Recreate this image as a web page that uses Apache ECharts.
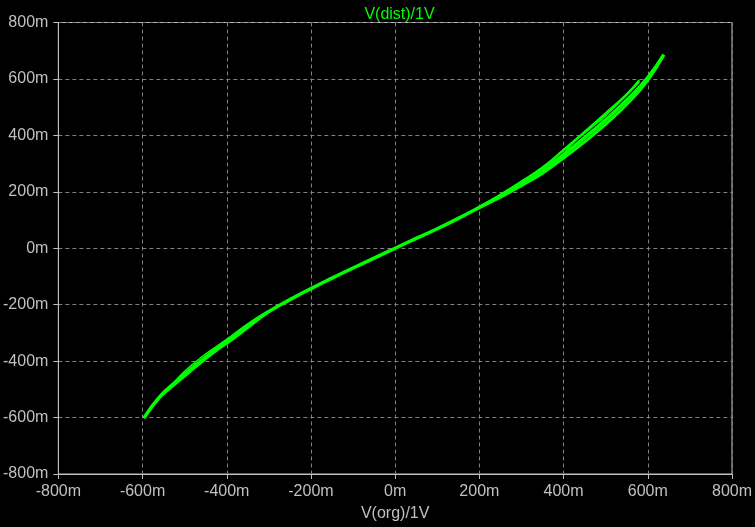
<!DOCTYPE html>
<html>
<head>
<meta charset="utf-8">
<script src="https://cdn.jsdelivr.net/npm/echarts@6/dist/echarts.min.js"></script>
<style>
html,body{margin:0;padding:0;background:#000;}
#chart{width:755px;height:527px;}
</style>
</head>
<body>
<div id="chart"></div>
<script>
// Tick values (V)
const tickValues = [-0.8,-0.6,-0.4,-0.2,0,0.2,0.4,0.6,0.8];

// Main trace: V(org) -> V(dist)
const mainX = [-0.597,-0.56,-0.52,-0.48,-0.44,-0.40,-0.35,-0.30,-0.25,-0.20,-0.15,-0.10,-0.05,0,0.05,0.10,0.15,0.20,0.25,0.30,0.35,0.40,0.45,0.50,0.55,0.60,0.638];
const mainY = [-0.602,-0.528,-0.472,-0.422,-0.374,-0.328,-0.272,-0.224,-0.182,-0.143,-0.106,-0.070,-0.035,0,0.035,0.069,0.106,0.145,0.185,0.228,0.276,0.332,0.392,0.455,0.525,0.605,0.686];

// Lower edge of band (positive side)
const lowX = [0.20,0.25,0.30,0.35,0.40,0.45,0.50,0.55,0.60,0.638];
const lowY = [0.145,0.181,0.222,0.266,0.320,0.377,0.440,0.510,0.595,0.686];

// Upper edge of band (positive side), smaller cycle
const highX = [0.20,0.25,0.30,0.35,0.40,0.45,0.50,0.55,0.58];
const highY = [0.145,0.189,0.236,0.286,0.348,0.412,0.478,0.545,0.595];

// Thin inner trace (positive side)
const thinPX = [0.40,0.42,0.46,0.50,0.54,0.58];
const thinPY = [0.332,0.370,0.420,0.470,0.528,0.588];

// Thin trace on negative side (above main band)
const thinNX = [-0.597,-0.583,-0.56,-0.535,-0.50,-0.46,-0.42,-0.38,-0.35];
const thinNY = [-0.602,-0.572,-0.525,-0.490,-0.436,-0.386,-0.343,-0.303,-0.272];

// Lower edge of band (negative side)
const lowNX = [-0.56,-0.50,-0.46,-0.42,-0.38,-0.34,-0.30];
const lowNY = [-0.528,-0.454,-0.404,-0.358,-0.316,-0.270,-0.224];

function pairs(xs, ys){ return xs.map((x,i)=>[x, ys[i]]); }
function fmt(v){ return Math.round(v*1000) + 'm'; }

const chart = echarts.init(document.getElementById('chart'), null, {renderer:'canvas'});
const gray = '#c0c0c0';
const font = 'Liberation Sans';

function axis(name){
  return {
    type:'value', min:-0.8, max:0.8, interval:0.2,
    name: name, nameLocation:'middle', nameGap:32,
    nameTextStyle:{color:gray, fontSize:16, fontFamily:font},
    axisLine:{show:true, onZero:false, lineStyle:{color:gray, width:1}},
    axisTick:{show:true, inside:false, length:5, lineStyle:{color:gray}},
    axisLabel:{color:gray, fontSize:16, fontFamily:font, margin:10, formatter:fmt, showMinLabel:true, showMaxLabel:true},
    splitLine:{show:true, lineStyle:{color:'#808080', type:[4,3], width:1}}
  };
}

const lineStyle = (w)=>({color:'#00ff00', width:w});

chart.setOption({
  backgroundColor:'#000',
  animation:false,
  title:{text:'V(dist)/1V', left:394.5, textAlign:'center', top:2,
    textStyle:{color:'#00ff00', fontSize:16, fontWeight:'normal', fontFamily:font}},
  grid:{left:56.5, right:22, top:22.5, bottom:51.5, show:true, borderColor:gray, borderWidth:1, backgroundColor:'transparent'},
  xAxis: axis('V(org)/1V'),
  yAxis: Object.assign(axis(''), {name:''}),
  series:[
    {type:'line', data:pairs(mainX, mainY), showSymbol:false, smooth:true, lineStyle:lineStyle(3.5)},
    {type:'line', data:pairs(lowX, lowY), showSymbol:false, smooth:true, lineStyle:lineStyle(3)},
    {type:'line', data:pairs(highX, highY), showSymbol:false, smooth:true, lineStyle:lineStyle(2.5)},
    {type:'line', data:pairs(thinPX, thinPY), showSymbol:false, smooth:true, lineStyle:lineStyle(1.5)},
    {type:'line', data:pairs(thinNX, thinNY), showSymbol:false, smooth:true, lineStyle:lineStyle(1.5)},
    {type:'line', data:pairs(lowNX, lowNY), showSymbol:false, smooth:true, lineStyle:lineStyle(2.5)}
  ]
});
</script>
</body>
</html>
